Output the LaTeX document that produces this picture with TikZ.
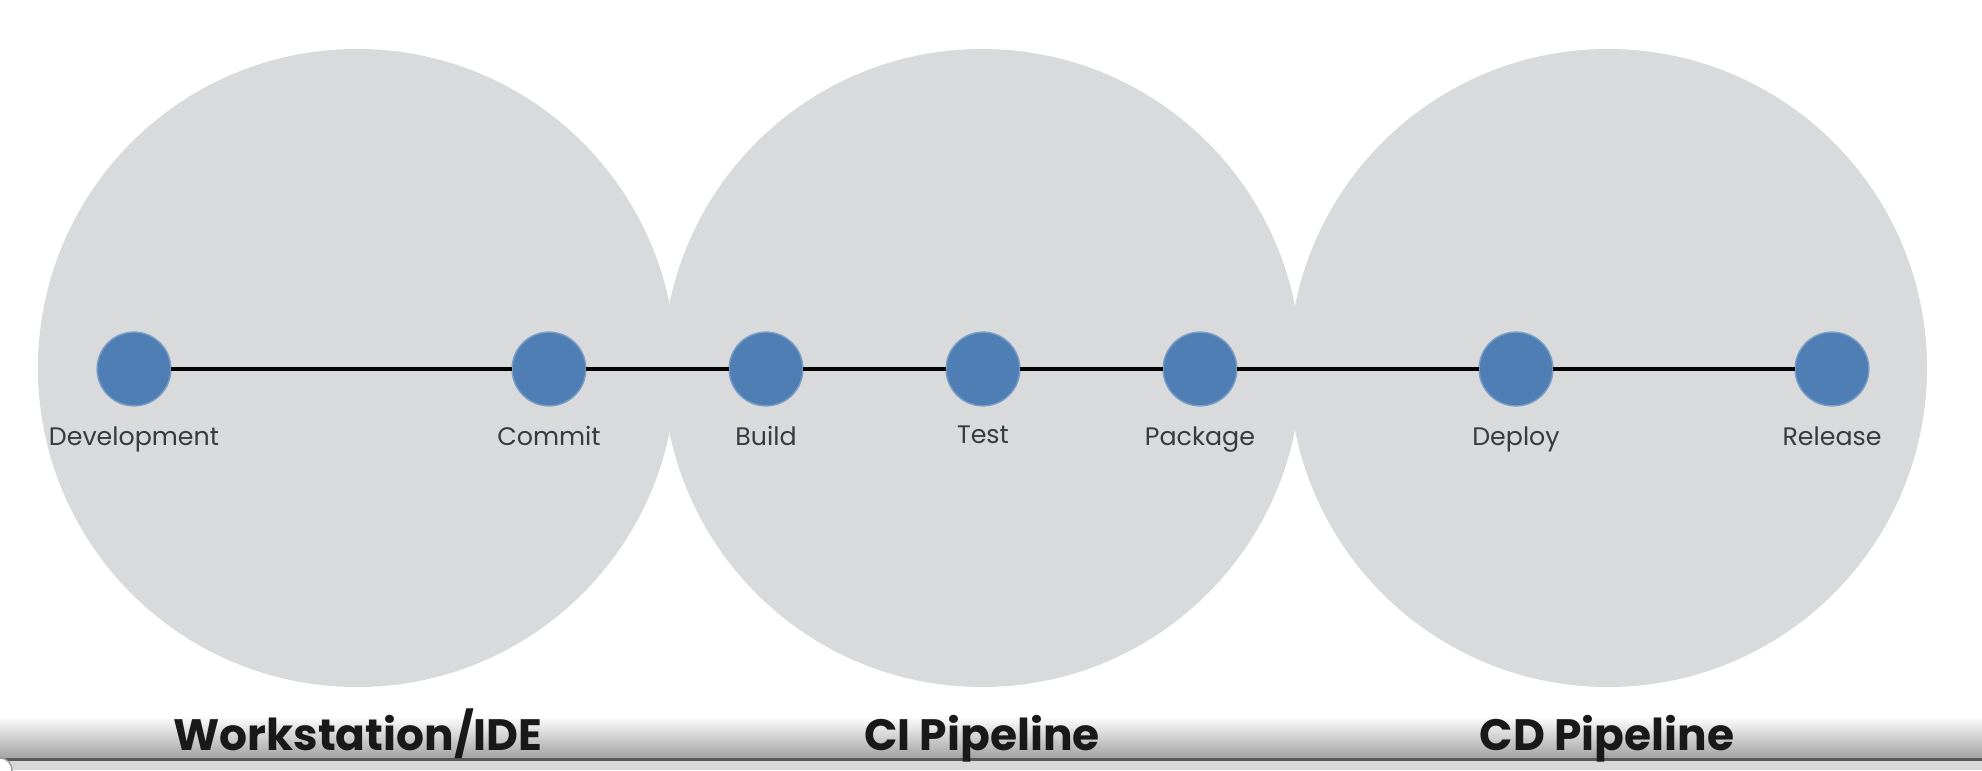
\documentclass[tikz,border=0pt]{standalone}
\usepackage{fontspec}
\setmainfont{Poppins}
\usepackage{tkz-graph}

\definecolor{discgray}{HTML}{D9DADB}
\definecolor{stepblue}{HTML}{4F7EB4}
\definecolor{labelgray}{HTML}{3A3A3A}
\definecolor{bandgray}{HTML}{A2A2A2}
\definecolor{bandline}{HTML}{5A5A5A}
\definecolor{barlight}{HTML}{D8D8D8}

\begin{document}
\begin{tikzpicture}
\tikzstyle{VertexStyle}=[shape = circle,
                         minimum size = 21 pt,
                         inner sep = 0pt,
                         fill = stepblue,
                         draw = stepblue!75!white,
                         line width = 0.4pt]
\tikzstyle{EdgeStyle}=[line width = 0.9pt, draw = black]
\tikzstyle{StepLabel}=[anchor = base, inner sep = 0pt, text = labelgray,
                       font = \fontsize{7.2}{8}\selectfont]
\tikzstyle{StageTitle}=[anchor = base, inner sep = 0pt, text = black!90,
                        font = \fontsize{12.5}{14}\selectfont\bfseries]
\useasboundingbox (0,0) rectangle (19.82,7.70);
\fill[white] (0,0) rectangle (19.82,7.70);
% the three stages
\fill[discgray] (3.57,4.02) circle (3.19);
\fill[discgray] (9.82,4.02) circle (3.19);
\fill[discgray] (16.08,4.02) circle (3.19);
% steps
\Vertex[x = 1.34, y = 4.01, L = \tiny {}]{dev}
\Vertex[x = 5.49, y = 4.01, L = \tiny {}]{com}
\Vertex[x = 7.66, y = 4.01, L = \tiny {}]{bld}
\Vertex[x = 9.83, y = 4.01, L = \tiny {}]{tst}
\Vertex[x = 12.00, y = 4.01, L = \tiny {}]{pkg}
\Vertex[x = 15.16, y = 4.01, L = \tiny {}]{dep}
\Vertex[x = 18.32, y = 4.01, L = \tiny {}]{rel}
\Edge(dev)(com)
\Edge(com)(bld)
\Edge(bld)(tst)
\Edge(tst)(pkg)
\Edge(pkg)(dep)
\Edge(dep)(rel)
\node[StepLabel] (ldev) at (1.34,3.25) {Development};
\node[StepLabel] (lcom) at (5.49,3.25) {Commit};
\node[StepLabel] (lbld) at (7.66,3.25) {Build};
\node[StepLabel] (ltst) at (9.83,3.27) {Test};
\node[StepLabel] (lpkg) at (12.00,3.25) {Package};
\node[StepLabel] (ldep) at (15.16,3.25) {Deploy};
\node[StepLabel] (lrel) at (18.32,3.25) {Release};
% bottom bar
\shade[top color = white, bottom color = bandgray] (0,0.12) rectangle (19.82,0.54);
\fill[bandline] (0,0.09) rectangle (19.82,0.12);
\fill[barlight] (0,0) rectangle (19.82,0.09);
\filldraw[fill = white, draw = bandline!60] (0,0) circle (0.12);
\node[StageTitle] (ws) at (3.58,0.20) {Workstation/IDE};
\node[StageTitle] (ci) at (9.82,0.20) {CI Pipeline};
\node[StageTitle] (cd) at (16.07,0.20) {CD Pipeline};
\end{tikzpicture}
\end{document}
